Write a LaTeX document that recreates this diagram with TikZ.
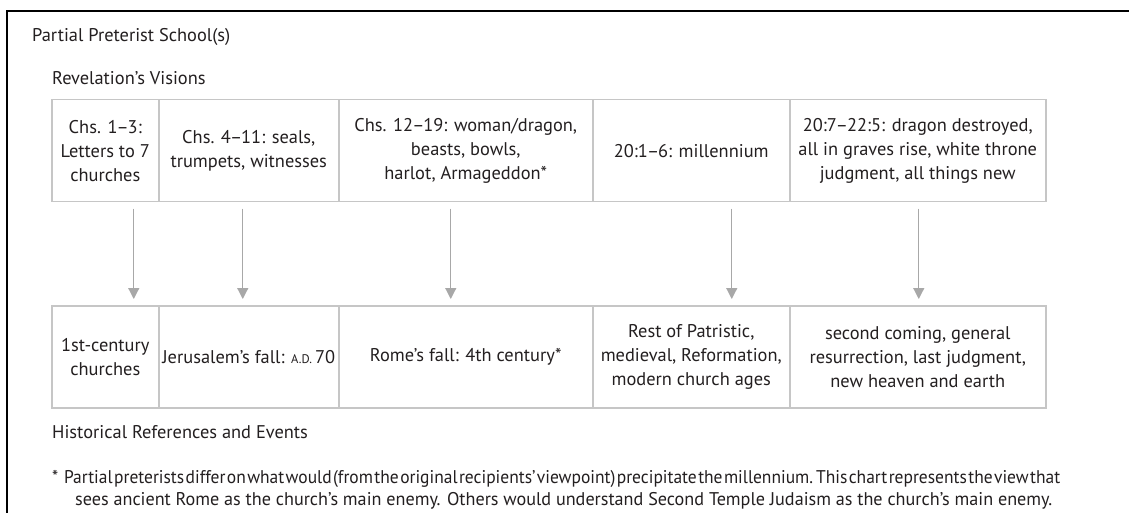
\documentclass[tikz,border=0pt]{standalone}
\usepackage{fontspec}
\setmainfont{PT Sans}
\usepackage{graphicx}
\usetikzlibrary{arrows.meta}
\definecolor{ink}{HTML}{231F20}
\definecolor{boxgray}{HTML}{C6C6C6}
\definecolor{arrgray}{HTML}{A8A8A8}
\newcommand\nd{\kern-1pt–\kern-1pt}
\tikzset{
  cell/.style={draw=boxgray, line width=1.5pt, anchor=north west, inner sep=0pt,
    minimum height=102pt, align=center, text=ink,
    font=\fontsize{18.4}{24}\selectfont},
  label/.style={anchor=base west, inner sep=0pt, text=ink,
    font=\fontsize{18.4}{24}\selectfont},
  arr/.style={draw=arrgray, line width=1.2pt,
    -{Triangle[width=11pt,length=11pt]}},
}
\begin{document}
\begin{tikzpicture}[x=1pt,y=-1pt]
\useasboundingbox (0,0) rectangle (1129,513);
\fill[white] (0,0) rectangle (1129,513);
\draw[line width=2pt] (7,513) -- (7,11) -- (1129,11);

\node[label] (title) at (32,42) {Partial Preterist School(s)};
\node[label] (vis) at (52,85) {Revelation’s Visions};
\node[label] (hist) at (52,438) {Historical References and Events};

% top row
\node[cell, minimum width=107pt] (t1) at (51,99) {Chs. 1\nd3:\\Letters to 7\\churches};
\node[cell, minimum width=180pt] (t2) at (158,99) {Chs. 4\nd11: seals,\\trumpets, witnesses};
\node[cell, minimum width=254pt] (t3) at (338,99) {Chs. 12\nd19: woman/dragon,\\beasts, bowls,\\harlot, Armageddon*};
\node[cell, minimum width=197pt] (t4) at (592,99) {20:1\nd6: millennium};
\node[cell, minimum width=256pt] (t5) at (789,99) {20:7\nd22:5: dragon destroyed,\\all in graves rise, white throne\\judgment, all things new};

% bottom row
\node[cell, minimum width=107pt] (b1) at (51,305) {1st-century\\churches};
\node[cell, minimum width=180pt] (b2) at (158,305) {Jerusalem’s fall: {\fontsize{12.5}{12.5}\selectfont A.D.}\,70};
\node[cell, minimum width=254pt] (b3) at (338,305) {Rome’s fall: 4th century*};
\node[cell, minimum width=197pt] (b4) at (592,305) {Rest of Patristic,\\medieval, Reformation,\\modern church ages};
\node[cell, minimum width=256pt] (b5) at (789,305) {second coming, general\\resurrection, last judgment,\\new heaven and earth};

% arrows
\draw[arr] ([xshift=28.5pt,yshift=-6pt]t1.south) -- ([xshift=28.5pt,yshift=6pt]b1.north);
\draw[arr] ([xshift=-6pt,yshift=-6pt]t2.south) -- ([xshift=-6pt,yshift=6pt]b2.north);
\draw[arr] ([xshift=-15pt,yshift=-6pt]t3.south) -- ([xshift=-15pt,yshift=6pt]b3.north);
\draw[arr] ([xshift=40.5pt,yshift=-6pt]t4.south) -- ([xshift=40.5pt,yshift=6pt]b4.north);
\draw[arr] ([xshift=1pt,yshift=-6pt]t5.south) -- ([xshift=1pt,yshift=6pt]b5.north);

% footnote
\node[label] (fn1) at (52,483) {\resizebox{1008pt}{\height}{*\hspace{6pt}\spaceskip=1.5pt plus 1pt Partial preterists differ on what would (from the original recipients’ viewpoint) precipitate the millennium. This chart represents the view that}};
\node[label] (fn2) at (75,505) {\resizebox{977pt}{\height}{sees ancient Rome as the church’s main enemy. Others would understand Second Temple Judaism as the church’s main enemy.}};
\end{tikzpicture}
\end{document}
